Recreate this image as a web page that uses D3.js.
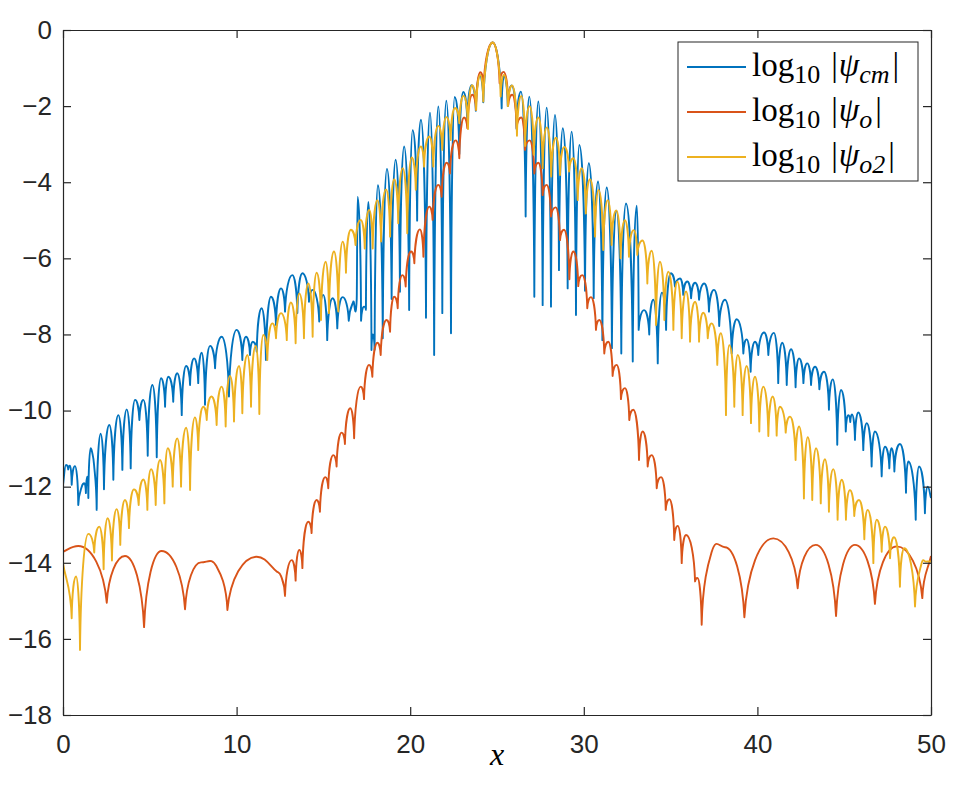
<!DOCTYPE html>
<html>
<head>
<meta charset="utf-8">
<script src="https://cdn.jsdelivr.net/npm/d3@7"></script>
<style>
  body { margin: 0; background: #fff; }
  svg { display: block; }
</style>
</head>
<body>
<svg width="970" height="800"></svg>
<script>

// tick values of the two axes
var xTicks = [0, 10, 20, 30, 40, 50];
var yTicks = [-18, -16, -14, -12, -10, -8, -6, -4, -2, 0];

// legend subscripts, in plotting order
var legendSubs = ["cm", "o", "o2"];
var seriesColors = ["#0072BD", "#D95319", "#EDB120"];

// log10|psi_cm| , peaks and troughs  [x, y]
var cmPoints = [
  [0.00,-11.95],[0.17,-11.43],[0.30,-11.55],[0.40,-11.45],[0.50,-11.95],[0.69,-11.46],[0.88,-12.48],
  [1.08,-12.00],[1.23,-11.91],[1.32,-12.17],[1.40,-11.74],[1.46,-12.30],[1.59,-10.99],[1.67,-11.08],
  [1.79,-11.43],[1.94,-12.61],[2.17,-10.61],[2.36,-12.07],[2.67,-10.38],[2.90,-11.82],[3.19,-10.12],
  [3.42,-11.56],[3.67,-9.97],[3.90,-11.52],[4.15,-9.72],[4.40,-10.25],[4.63,-9.72],[4.88,-11.19],
  [5.15,-9.33],[5.40,-11.23],[5.65,-9.15],[5.88,-9.90],[6.07,-9.11],[6.35,-9.77],[6.58,-9.02],
  [6.84,-10.12],[7.09,-8.83],[7.32,-9.33],[7.55,-8.63],[7.79,-9.28],[7.99,-8.48],[8.18,-9.85],
  [8.47,-8.30],[8.76,-8.89],[9.14,-8.06],[9.56,-9.63],[10.00,-7.88],[10.33,-8.67],[10.54,-8.06],
  [10.77,-8.54],[10.93,-8.19],[11.16,-8.45],[11.44,-7.31],[11.69,-8.67],[11.98,-7.01],[12.27,-7.75],
  [12.56,-6.79],[12.79,-7.40],[13.21,-6.44],[13.50,-7.44],[13.79,-6.39],[14.17,-7.14],[14.38,-6.83],
  [14.76,-7.66],[14.99,-6.96],[15.22,-8.15],[15.53,-7.05],[15.80,-7.84],[16.11,-7.02],[16.46,-7.64],
  [16.72,-7.14],[16.92,-7.07],[16.97,-4.38],[17.17,-7.64],[17.34,-7.27],[17.45,-7.35],[17.59,-4.52],
  [17.77,-8.41],[17.85,-8.00],[17.95,-8.40],[18.14,-4.08],[18.42,-8.10],[18.66,-3.65],[18.93,-7.07],
  [19.16,-3.41],[19.41,-6.88],[19.65,-3.06],[19.94,-7.36],[20.14,-2.63],[20.40,-5.01],[20.62,-2.36],
  [20.91,-7.56],[21.14,-2.17],[21.38,-8.54],[21.62,-2.01],[21.85,-7.44],[22.08,-1.86],[22.35,-7.97],
  [22.56,-1.76],[22.83,-3.26],[23.06,-1.63],[23.29,-2.45],[23.54,-1.45],[23.78,-2.12],[24.02,-1.20],
  [24.21,-1.90],[24.75,-0.33],[25.27,-2.06],[25.40,-1.20],[25.62,-2.00],[25.85,-1.46],[26.13,-2.60],
  [26.38,-1.62],[26.65,-4.90],[26.86,-1.75],[27.15,-7.01],[27.38,-1.88],[27.63,-7.23],[27.86,-2.04],
  [28.11,-7.27],[28.34,-2.23],[28.57,-6.31],[28.79,-2.58],[29.07,-6.79],[29.30,-2.67],[29.55,-7.49],
  [29.74,-3.02],[30.07,-6.85],[30.29,-3.50],[30.57,-7.05],[30.82,-3.98],[31.07,-8.15],[31.32,-4.14],
  [31.62,-8.36],[31.88,-4.75],[32.16,-8.50],[32.43,-4.56],[32.82,-8.71],[33.05,-4.62],[33.16,-7.88],
  [33.47,-7.36],[33.77,-8.00],[34.00,-7.09],[34.26,-8.76],[34.50,-6.90],[34.74,-7.88],[35.01,-6.39],
  [35.25,-6.74],[35.54,-6.53],[35.73,-6.96],[35.96,-6.61],[36.18,-7.05],[36.41,-6.64],[36.64,-7.09],
  [36.94,-6.66],[37.21,-7.40],[37.50,-6.83],[37.80,-7.78],[38.13,-7.09],[38.52,-8.50],[38.81,-7.60],
  [39.19,-8.50],[39.38,-8.13],[39.61,-8.98],[39.86,-8.19],[40.05,-8.54],[40.38,-7.95],[40.63,-8.54],
  [40.95,-7.96],[41.20,-9.28],[41.43,-8.22],[41.69,-9.33],[41.94,-8.39],[42.20,-9.39],[42.40,-8.63],
  [42.65,-9.28],[42.87,-8.76],[43.09,-9.33],[43.32,-8.85],[43.57,-9.44],[43.84,-8.98],[44.12,-9.98],
  [44.34,-9.18],[44.60,-10.90],[44.82,-9.46],[45.09,-10.55],[45.24,-10.12],[45.35,-10.30],[45.45,-10.10],
  [45.62,-10.77],[45.81,-10.05],[46.10,-11.04],[46.30,-10.33],[46.58,-11.47],[46.77,-10.55],[47.16,-11.73],
  [47.35,-10.95],[47.60,-11.52],[47.73,-10.99],[47.89,-11.60],[48.21,-10.88],[48.56,-12.16],[48.69,-11.34],
  [49.12,-12.87],[49.31,-11.47],[49.65,-12.70],[49.81,-12.00],[50.00,-12.30]
];

// log10|psi_o|
var oPoints = [
  [0.00,-13.71],[0.88,-13.56],[2.52,-15.05],[3.57,-13.82],[4.67,-15.69],[5.68,-13.69],[7.03,-15.22],
  [7.95,-13.99],[8.85,-14.10],[9.47,-15.24],[11.16,-13.84],[12.31,-14.23],[12.56,-14.35],[12.79,-14.87],
  [13.17,-13.93],[13.40,-14.47],[13.61,-13.66],[13.79,-14.14],[14.13,-12.92],[14.32,-13.22],[14.61,-12.35],
  [14.80,-12.66],[15.11,-11.75],[15.28,-12.04],[15.57,-11.17],[15.76,-11.47],[16.05,-10.58],[16.24,-10.88],
  [16.55,-9.94],[16.77,-10.73],[17.15,-9.37],[17.34,-9.70],[17.63,-8.80],[17.82,-9.11],[18.11,-8.22],
  [18.30,-8.54],[18.64,-7.62],[18.84,-7.93],[19.08,-7.01],[19.28,-7.31],[19.55,-6.44],[19.74,-6.74],
  [20.05,-5.82],[20.24,-6.13],[20.56,-5.24],[20.76,-5.96],[21.10,-4.64],[21.29,-4.99],[21.62,-4.07],
  [21.81,-4.38],[22.10,-3.49],[22.29,-3.77],[22.62,-2.90],[22.83,-3.37],[23.10,-2.30],[23.29,-2.58],
  [23.58,-1.70],[23.79,-2.10],[24.04,-1.11],[24.23,-1.50],[24.75,-0.33],[25.15,-1.40],[25.38,-1.10],
  [25.65,-1.97],[25.88,-1.70],[26.13,-2.58],[26.40,-2.30],[26.61,-3.15],[26.88,-2.90],[27.15,-3.77],
  [27.38,-3.49],[27.63,-4.34],[27.86,-4.07],[28.11,-4.90],[28.38,-4.66],[28.63,-5.52],[28.86,-5.25],
  [29.17,-6.55],[29.40,-5.82],[29.68,-6.73],[29.91,-6.44],[30.20,-7.31],[30.41,-7.02],[30.70,-7.88],
  [30.89,-7.62],[31.18,-8.50],[31.41,-8.19],[31.66,-9.09],[31.89,-8.80],[32.14,-9.70],[32.37,-9.41],
  [32.62,-10.25],[32.85,-9.98],[33.18,-11.30],[33.39,-10.55],[33.68,-11.47],[33.91,-11.17],[34.20,-12.04],
  [34.45,-11.75],[34.72,-12.61],[34.93,-12.33],[35.21,-13.40],[35.41,-13.03],[35.64,-14.01],[35.89,-13.27],
  [36.41,-14.49],[36.55,-14.40],[36.79,-15.63],[37.37,-13.71],[38.13,-13.59],[39.25,-15.43],[40.92,-13.36],
  [42.32,-14.67],[43.36,-13.53],[44.53,-15.40],[45.62,-13.53],[46.77,-15.08],[48.02,-13.57],[49.50,-14.93],
  [50.00,-13.82]
];

// log10|psi_o2|
var o2Points = [
  [0.00,-14.01],[0.50,-15.46],[0.75,-14.36],[0.98,-16.29],[1.46,-13.24],[1.80,-13.73],[2.09,-13.05],
  [2.34,-14.17],[2.57,-12.83],[2.82,-13.94],[3.09,-12.59],[3.30,-13.53],[3.57,-12.35],[3.80,-13.09],
  [4.09,-12.07],[4.36,-12.48],[4.63,-11.81],[4.86,-12.61],[5.07,-11.54],[5.34,-12.48],[5.59,-11.30],
  [5.84,-12.44],[6.03,-10.99],[6.32,-12.00],[6.58,-10.73],[6.80,-12.00],[7.09,-10.45],[7.32,-12.09],
  [7.60,-10.18],[7.79,-11.04],[8.08,-9.90],[8.28,-10.25],[8.55,-9.63],[8.85,-10.38],[9.14,-9.37],
  [9.37,-10.42],[9.62,-9.09],[9.85,-10.29],[10.14,-8.83],[10.33,-10.07],[10.62,-8.54],[10.83,-9.90],
  [11.10,-8.30],[11.31,-10.09],[11.54,-8.01],[11.77,-8.67],[12.06,-7.71],[12.27,-8.10],[12.56,-7.44],
  [12.89,-8.15],[13.13,-7.16],[13.40,-8.23],[13.61,-6.92],[13.88,-8.10],[14.13,-6.66],[14.38,-8.06],
  [14.61,-6.38],[14.86,-7.62],[15.13,-6.09],[15.32,-7.44],[15.61,-5.82],[15.86,-7.40],[16.11,-5.56],
  [16.30,-6.38],[16.58,-5.25],[16.85,-5.65],[17.15,-4.99],[17.38,-5.74],[17.64,-4.73],[17.84,-5.74],
  [18.11,-4.47],[18.32,-5.56],[18.61,-4.19],[18.84,-5.43],[19.08,-3.92],[19.31,-5.08],[19.57,-3.63],
  [19.83,-5.34],[20.09,-3.35],[20.32,-4.20],[20.61,-3.06],[20.80,-3.59],[21.10,-2.80],[21.33,-3.59],
  [21.62,-2.52],[21.85,-3.15],[22.08,-2.29],[22.33,-2.89],[22.58,-2.05],[22.83,-2.45],[23.08,-1.73],
  [23.33,-2.60],[23.56,-1.45],[23.80,-2.10],[24.04,-1.18],[24.21,-1.88],[24.75,-0.33],[25.21,-1.75],
  [25.40,-1.18],[25.63,-2.00],[25.87,-1.46],[26.15,-2.78],[26.40,-1.73],[26.62,-3.05],[26.88,-2.00],
  [27.12,-3.28],[27.38,-2.30],[27.63,-3.63],[27.87,-2.56],[28.12,-3.85],[28.40,-2.83],[28.63,-3.81],
  [28.88,-3.07],[29.15,-3.72],[29.40,-3.37],[29.65,-4.47],[29.88,-3.63],[30.12,-4.82],[30.36,-3.92],
  [30.65,-5.43],[30.85,-4.20],[31.12,-5.78],[31.38,-4.47],[31.60,-5.65],[31.87,-4.74],[32.12,-6.00],
  [32.37,-5.00],[32.60,-5.96],[32.87,-5.26],[33.08,-5.91],[33.38,-5.53],[33.66,-6.66],[33.91,-5.80],
  [34.16,-7.75],[34.39,-6.09],[34.64,-7.62],[34.87,-6.35],[35.16,-7.88],[35.39,-6.61],[35.64,-8.10],
  [35.89,-6.87],[36.12,-8.19],[36.41,-7.14],[36.64,-8.19],[36.88,-7.43],[37.14,-8.10],[37.37,-7.71],
  [37.69,-8.80],[37.89,-7.97],[38.19,-10.12],[38.38,-8.28],[38.67,-9.90],[38.87,-8.54],[39.15,-10.12],
  [39.38,-8.83],[39.63,-10.33],[39.86,-9.11],[40.11,-10.55],[40.34,-9.37],[40.63,-10.67],[40.88,-9.63],
  [41.11,-10.66],[41.30,-9.90],[41.63,-10.58],[41.88,-10.16],[42.20,-11.30],[42.40,-10.42],[42.68,-12.31],
  [42.90,-10.70],[43.16,-12.35],[43.38,-10.99],[43.65,-12.44],[43.89,-11.28],[44.12,-12.66],[44.37,-11.54],
  [44.62,-12.87],[44.86,-11.82],[45.10,-12.87],[45.33,-12.09],[45.58,-12.77],[45.85,-12.35],[46.16,-13.38],
  [46.35,-12.61],[46.68,-14.01],[46.87,-12.87],[47.16,-13.71],[47.35,-13.05],[47.64,-13.88],[47.87,-13.33],
  [48.21,-14.63],[48.46,-13.62],[49.08,-15.15],[49.46,-14.01],[49.70,-13.97],[50.00,-13.97]
];

var series = [cmPoints, oPoints, o2Points];

var svg = d3.select("svg"),
    margin = {left: 63, right: 39, top: 30, bottom: 85},
    width = +svg.attr("width"),
    height = +svg.attr("height");

var axisColor = "#262626";
var tickFont = "'Liberation Sans', Arial, Helvetica, sans-serif";
var mathFont = "'Liberation Serif', 'DejaVu Serif', serif";

var x = d3.scaleLinear()
        .domain([0, 50])
        .range([margin.left, width - margin.right]);

var y = d3.scaleLinear()
        .domain([-18, 0])
        .range([height - margin.bottom, margin.top]);

// Curve for |log| of an oscillation: rounded tops, cusp-like bottoms.
function curveLobe(context) {
    return {
        areaStart: function() {},
        areaEnd: function() {},
        lineStart: function() { this._px = []; this._py = []; },
        point: function(a, b) { this._px.push(+a); this._py.push(+b); },
        lineEnd: function() {
            var px = this._px, py = this._py, n = px.length;
            if (!n) return;
            var kind = [], slope = [];
            for (var i = 0; i < n; i++) {
                var i0 = Math.max(i - 1, 0), i1 = Math.min(i + 1, n - 1);
                slope[i] = (py[i1] - py[i0]) / ((px[i1] - px[i0]) || 1);
                if (i > 0 && i < n - 1 && py[i] < py[i - 1] && py[i] < py[i + 1]) kind[i] = "top";
                else if (i > 0 && i < n - 1 && py[i] > py[i - 1] && py[i] > py[i + 1]) kind[i] = "bottom";
                else kind[i] = "mid";
            }
            context.moveTo(px[0], py[0]);
            for (var j = 0; j < n - 1; j++) {
                var dx = px[j + 1] - px[j], dy = py[j + 1] - py[j];
                var c1x, c1y, c2x, c2y;
                if (kind[j] == "top") { c1x = px[j] + 0.45 * dx; c1y = py[j]; }
                else if (kind[j] == "bottom") { c1x = px[j] + 0.1 * dx; c1y = py[j] + 0.6 * dy; }
                else { c1x = px[j] + dx / 3; c1y = py[j] + slope[j] * dx / 3; }
                if (kind[j + 1] == "top") { c2x = px[j + 1] - 0.45 * dx; c2y = py[j + 1]; }
                else if (kind[j + 1] == "bottom") { c2x = px[j + 1] - 0.1 * dx; c2y = py[j + 1] - 0.6 * dy; }
                else { c2x = px[j + 1] - dx / 3; c2y = py[j + 1] - slope[j + 1] * dx / 3; }
                context.bezierCurveTo(c1x, c1y, c2x, c2y, px[j + 1], py[j + 1]);
            }
        }
    };
}

var line = d3.line()
        .x(function(d) { return x(d[0]); })
        .y(function(d) { return y(d[1]); })
        .curve(curveLobe);

svg.append("rect")
        .attr("width", width)
        .attr("height", height)
        .attr("fill", "#fff");

svg.append("clipPath")
        .attr("id", "plot-clip")
        .append("rect")
        .attr("x", x(0))
        .attr("y", y(0))
        .attr("width", x(50) - x(0))
        .attr("height", y(-18) - y(0));

// the three curves, in MATLAB plotting order
svg.append("g")
        .attr("clip-path", "url(#plot-clip)")
        .selectAll("path")
        .data(series)
        .enter().append("path")
        .attr("d", line)
        .attr("fill", "none")
        .attr("stroke", function(d, i) { return seriesColors[i]; })
        .attr("stroke-width", 1.9)
        .attr("stroke-linejoin", "round");

// box with inward ticks on all four sides
svg.append("g")
        .attr("transform", "translate(0," + y(-18) + ")")
        .call(d3.axisBottom(x).tickValues(xTicks).tickSizeInner(-8).tickSizeOuter(0).tickPadding(20));

svg.append("g")
        .attr("transform", "translate(" + x(0) + ",0)")
        .call(d3.axisLeft(y).tickValues(yTicks).tickSizeInner(-8).tickSizeOuter(0).tickPadding(11));

svg.append("g")
        .attr("transform", "translate(0," + y(0) + ")")
        .call(d3.axisTop(x).tickValues(xTicks).tickSizeInner(-8).tickSizeOuter(0).tickFormat(""));

svg.append("g")
        .attr("transform", "translate(" + x(50) + ",0)")
        .call(d3.axisRight(y).tickValues(yTicks).tickSizeInner(-8).tickSizeOuter(0).tickFormat(""));

svg.selectAll(".domain, .tick line")
        .attr("stroke", axisColor)
        .attr("stroke-width", 1.2);

svg.selectAll(".tick text")
        .attr("fill", axisColor)
        .style("font-family", tickFont)
        .style("font-size", "26px");

// x axis label
svg.append("text")
        .attr("x", (x(0) + x(50)) / 2)
        .attr("y", 765)
        .attr("text-anchor", "middle")
        .style("font-family", mathFont)
        .style("font-style", "italic")
        .style("font-size", "32px")
        .attr("fill", "#000")
        .text("x");

// legend
var legend = svg.append("g").attr("class", "legend");

legend.append("rect")
        .attr("x", 678)
        .attr("y", 42)
        .attr("width", 240)
        .attr("height", 139)
        .attr("fill", "#fff")
        .attr("stroke", axisColor)
        .attr("stroke-width", 1);

var legendRow = legend.selectAll(".legend-row")
        .data(legendSubs)
        .enter().append("g")
        .attr("class", "legend-row")
        .attr("transform", function(d, i) { return "translate(0," + (67 + i * 45) + ")"; });

legendRow.append("line")
        .attr("x1", 687)
        .attr("x2", 746)
        .attr("stroke", function(d, i) { return seriesColors[i]; })
        .attr("stroke-width", 1.9);

var legendText = legendRow.append("text")
        .attr("x", 752)
        .attr("y", 9)
        .attr("fill", "#000")
        .style("font-family", mathFont)
        .style("font-size", "33px");

legendText.append("tspan").text("log");
legendText.append("tspan").attr("dy", 7).style("font-size", "26px").text("10");
legendText.append("tspan").attr("dy", -7).attr("dx", 11).text("|");
legendText.append("tspan").attr("dx", 1).style("font-style", "italic").text("ψ");
legendText.append("tspan").attr("dy", 7).style("font-style", "italic").style("font-size", "26px")
        .text(function(d) { return d; });
legendText.append("tspan").attr("dy", -7).attr("dx", 3).text("|");

</script>
</body>
</html>
